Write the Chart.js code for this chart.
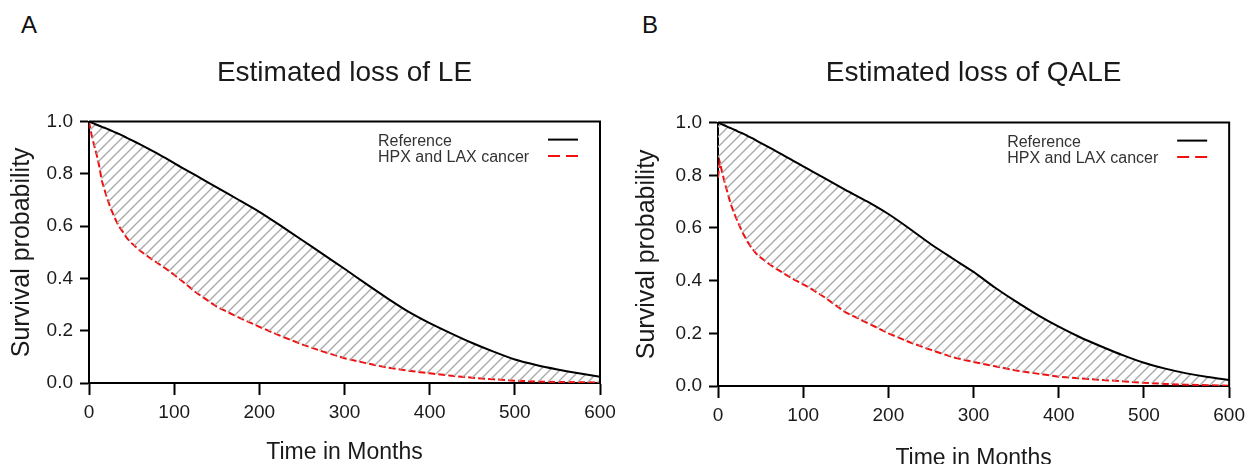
<!DOCTYPE html>
<html>
<head>
<meta charset="utf-8">
<script src="https://cdn.jsdelivr.net/npm/chart.js@4.4.1/dist/chart.umd.min.js"></script>
<style>
html, body { margin: 0; padding: 0; background: #fff; overflow: hidden; }
body { width: 1251px; height: 464px; position: relative; font-family: "Liberation Sans", Arial, sans-serif; }
.panel { position: absolute; top: 0; }
.letter { position: absolute; font-size: 24px; line-height: 1; color: #111; }
</style>
</head>
<body>
<div class="letter" style="left:21px;top:13px">A</div>
<div class="letter" style="left:642px;top:13px">B</div>
<div class="panel" style="left:0;width:625px;height:466px"><canvas id="chartA"></canvas></div>
<div class="panel" style="left:625px;width:626px;height:472px"><canvas id="chartB"></canvas></div>
<script>
// months since diagnosis
const monthsA = [0, 3, 6, 9, 12, 15, 20, 25, 30, 35, 40, 45, 50, 60, 70, 80, 90, 100, 110, 125,
  150, 175, 200, 225, 250, 275, 300, 325, 350, 375, 400, 425, 450, 475, 500, 525, 550, 575, 600];
const referenceA = [1.0, 0.996, 0.992, 0.988, 0.984, 0.98, 0.974, 0.967, 0.96, 0.953, 0.945, 0.937, 0.929,
  0.913, 0.896, 0.878, 0.86, 0.841, 0.822, 0.795, 0.748, 0.702, 0.655, 0.602, 0.547, 0.492, 0.437, 0.38,
  0.325, 0.273, 0.229, 0.19, 0.153, 0.12, 0.09, 0.069, 0.052, 0.037, 0.024];
const cancerA = [1.0, 0.95, 0.91, 0.873, 0.83, 0.775, 0.72, 0.672, 0.633, 0.6, 0.577, 0.552, 0.535,
  0.506, 0.482, 0.46, 0.438, 0.414, 0.388, 0.348, 0.292, 0.252, 0.215, 0.18, 0.148, 0.12, 0.095, 0.076,
  0.059, 0.047, 0.037, 0.028, 0.02, 0.014, 0.009, 0.006, 0.004, 0.003, 0.002];

const monthsB = [0, 2, 5, 8, 12, 15, 20, 25, 30, 35, 40, 45, 50, 60, 70, 80, 90, 100, 110, 125,
  150, 175, 200, 225, 250, 275, 300, 325, 350, 375, 400, 425, 450, 475, 500, 525, 550, 575, 600];
const referenceB = [1.0, 0.997, 0.993, 0.989, 0.983, 0.979, 0.972, 0.964, 0.957, 0.949, 0.941, 0.932, 0.923,
  0.906, 0.888, 0.87, 0.852, 0.834, 0.816, 0.789, 0.744, 0.701, 0.653, 0.597, 0.538, 0.485, 0.433, 0.374,
  0.32, 0.27, 0.225, 0.185, 0.15, 0.117, 0.088, 0.066, 0.048, 0.034, 0.023];
const cancerB = [0.79, 0.85, 0.81, 0.77, 0.725, 0.69, 0.648, 0.61, 0.575, 0.546, 0.522, 0.502, 0.488,
  0.463, 0.442, 0.422, 0.403, 0.386, 0.368, 0.337, 0.279, 0.24, 0.2, 0.166, 0.137, 0.11, 0.091, 0.075,
  0.059, 0.047, 0.035, 0.029, 0.023, 0.018, 0.012, 0.008, 0.005, 0.003, 0.001];

const xTicks = [0, 100, 200, 300, 400, 500, 600];
const yTicks = [0, 0.2, 0.4, 0.6, 0.8, 1.0];
const seriesNames = ['Reference', 'HPX and LAX cancer'];

const FONT = '"Liberation Sans", Arial, sans-serif';

function hatch() {
  const n = 10;
  const c = document.createElement('canvas');
  c.width = n; c.height = n;
  const g = c.getContext('2d');
  g.strokeStyle = '#aaaaaa';
  g.lineWidth = 1.4;
  g.beginPath();
  g.moveTo(0, n); g.lineTo(n, 0);
  g.moveTo(-1, 1); g.lineTo(1, -1);
  g.moveTo(n - 1, n + 1); g.lineTo(n + 1, n - 1);
  g.stroke();
  return g.createPattern(c, 'repeat');
}

// top/right frame and the legend with the line sample right of the text
const framePlugin = {
  id: 'frame',
  afterDatasetsDraw(chart) {
    const { ctx, chartArea: a } = chart;
    ctx.save();
    ctx.strokeStyle = '#000';
    ctx.lineWidth = 2;
    ctx.beginPath();
    ctx.moveTo(a.left, a.top);
    ctx.lineTo(a.right, a.top);
    ctx.lineTo(a.right, a.bottom);
    ctx.stroke();

    ctx.font = '16px ' + FONT;
    ctx.textBaseline = 'middle';
    chart.data.datasets.forEach((ds, i) => {
      const y = a.top + 18 + i * 16.5;
      ctx.fillStyle = '#333';
      ctx.fillText(ds.label, a.right - 222, y + 1.5);
      ctx.strokeStyle = ds.borderColor;
      ctx.lineWidth = 2;
      ctx.setLineDash(ds.borderDash ? [12, 6] : []);
      ctx.beginPath();
      ctx.moveTo(a.right - 52, y);
      ctx.lineTo(a.right - 22, y);
      ctx.stroke();
    });
    ctx.restore();
  }
};

function makeChart(id, title, months, ref, cancer, lay) {
  const pts = arr => arr.map((v, i) => ({ x: months[i], y: v }));
  return new Chart(document.getElementById(id), {
    type: 'line',
    data: {
      datasets: [{
        label: seriesNames[0],
        data: pts(ref),
        borderColor: '#000',
        borderWidth: 2,
        backgroundColor: hatch(),
        fill: '+1',
        pointRadius: 0,
        tension: 0.2
      }, {
        label: seriesNames[1],
        data: pts(cancer),
        borderColor: '#f01010',
        borderWidth: 2,
        borderDash: [7, 3],
        fill: false,
        pointRadius: 0,
        tension: 0
      }]
    },
    options: {
      responsive: true,
      maintainAspectRatio: false,
      animation: false,
      layout: { padding: { left: 0, right: lay.right, top: 0, bottom: 0 } },
      plugins: {
        legend: { display: false },
        tooltip: { enabled: false },
        title: {
          display: true,
          text: title,
          fullSize: false,
          color: '#1a1a1a',
          font: { family: FONT, size: 28, weight: 'normal' },
          padding: { top: 56, bottom: lay.titleBottom }
        }
      },
      scales: {
        x: {
          type: 'linear',
          min: 0, max: 600,
          afterFit: s => { s.height = lay.xHeight; },
          afterBuildTicks: s => { s.ticks = xTicks.map(v => ({ value: v })); },
          ticks: { color: '#1a1a1a', font: { family: FONT, size: 19 }, padding: 6 },
          grid: { drawOnChartArea: false, drawTicks: true, tickLength: 12, tickColor: '#000', tickWidth: 2 },
          border: { display: true, color: '#000', width: 2 },
          title: { display: true, text: 'Time in Months', color: '#1a1a1a',
            font: { family: FONT, size: 23 }, padding: { top: 0, bottom: 0 } }
        },
        y: {
          min: 0, max: 1,
          afterFit: s => { s.width = lay.yWidth; },
          afterBuildTicks: s => { s.ticks = yTicks.map(v => ({ value: v })); },
          ticks: { color: '#1a1a1a', font: { family: FONT, size: 19 }, padding: 7,
            callback: v => v.toFixed(1) },
          grid: { drawOnChartArea: false, drawTicks: true, tickLength: 9, tickColor: '#000', tickWidth: 2 },
          border: { display: true, color: '#000', width: 2 },
          title: { display: true, text: 'Survival probability', color: '#1a1a1a',
            font: { family: FONT, size: 25 }, padding: { top: lay.yTitlePad, bottom: 0 } }
        }
      }
    },
    plugins: [framePlugin]
  });
}

makeChart('chartA', 'Estimated loss of LE', monthsA, referenceA, cancerA,
  { right: 25, yWidth: 89, xHeight: 83, titleBottom: 32, yTitlePad: 7 });
makeChart('chartB', 'Estimated loss of QALE', monthsB, referenceB, cancerB,
  { right: 20, yWidth: 93, xHeight: 86, titleBottom: 33, yTitlePad: 7.6 });
</script>
</body>
</html>
